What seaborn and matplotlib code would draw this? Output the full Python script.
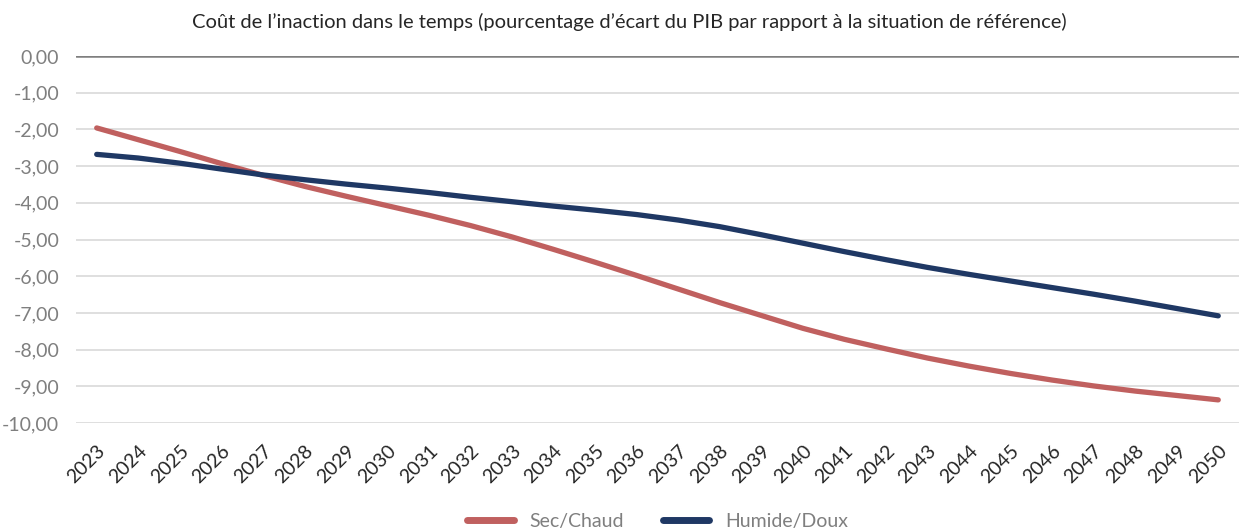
import pandas as pd
import numpy as np
import matplotlib.pyplot as plt
import seaborn as sns

years = list(range(2023, 2051))
sec_chaud = [-1.96, -2.28, -2.60, -2.93, -3.25, -3.55, -3.82, -4.08, -4.34, -4.62,
             -4.93, -5.27, -5.62, -5.98, -6.35, -6.72, -7.07, -7.42, -7.72, -7.98,
             -8.23, -8.45, -8.65, -8.83, -8.99, -9.13, -9.25, -9.37]
humide_doux = [-2.68, -2.78, -2.92, -3.08, -3.24, -3.37, -3.49, -3.60, -3.72, -3.85,
               -3.97, -4.09, -4.20, -4.32, -4.47, -4.65, -4.87, -5.10, -5.33, -5.55,
               -5.76, -5.95, -6.13, -6.31, -6.49, -6.68, -6.88, -7.08]
series_names = ['Sec/Chaud', 'Humide/Doux']
y_ticks = [0, -1, -2, -3, -4, -5, -6, -7, -8, -9, -10]

df = pd.DataFrame({'annee': years * 2,
                   'valeur': sec_chaud + humide_doux,
                   'scenario': [series_names[0]] * len(years) + [series_names[1]] * len(years)})

sns.set_theme(style='white')
plt.rcParams['font.family'] = ['Lato', 'DejaVu Sans']

fig = plt.figure(figsize=(12.43, 5.31), dpi=100)
ax = fig.add_axes([0.0611, 0.2034, 0.9357, 0.6911])

palette = {'Sec/Chaud': '#C0605F', 'Humide/Doux': '#1F3864'}
sns.lineplot(data=df, x='annee', y='valeur', hue='scenario', palette=palette,
             linewidth=3.8, ax=ax, legend=True, solid_capstyle='round')

ax.set_xlim(2022.5, 2050.5)
ax.set_ylim(-10, 0)
ax.set_yticks(y_ticks)
ax.set_yticklabels([f'{v:.2f}'.replace('.', ',') for v in y_ticks])
ax.set_xticks(years)
ax.set_xticklabels([str(y) for y in years], rotation=45, ha='right', rotation_mode='anchor')
ax.tick_params(axis='y', labelsize=14, labelcolor='#7f7f7f', length=0, pad=12)
ax.tick_params(axis='x', labelsize=14, labelcolor='#262626', length=0, pad=14)

for v in y_ticks[1:]:
    ax.axhline(v, color='#d9d9d9', linewidth=1.2, zorder=0)
ax.axhline(0, color='#7f7f7f', linewidth=1.8, zorder=1)
for s in ax.spines.values():
    s.set_visible(False)
ax.set_xlabel('')
ax.set_ylabel('')

fig.suptitle("Coût de l’inaction dans le temps (pourcentage d’écart du PIB par rapport à la situation de référence)",
             x=0.506, y=0.975, fontsize=14.5, color='#262626')

leg = ax.legend(loc='lower center', bbox_to_anchor=(0.5, -0.34), ncol=2, frameon=False,
                fontsize=14, handlelength=2.4, columnspacing=2.0)
for t in leg.get_texts():
    t.set_color('#7f7f7f')
for h in leg.get_lines():
    h.set_linewidth(5)

fig.savefig('out.png', dpi=100)
